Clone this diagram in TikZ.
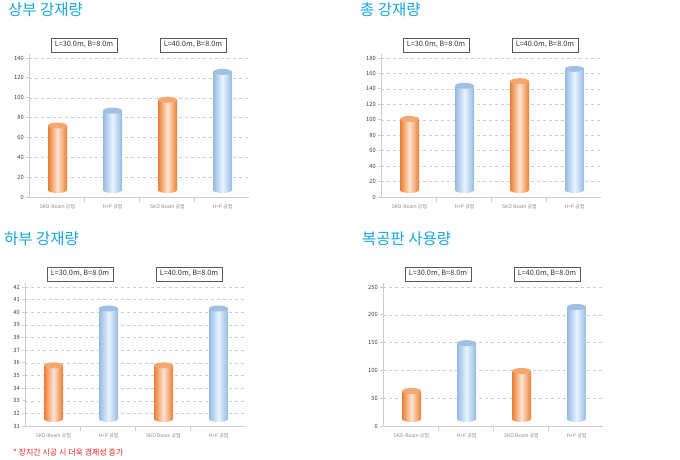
\documentclass[tikz,border=0pt]{standalone}
\usepackage{fontspec}
\setmainfont{Noto Sans CJK KR}
\definecolor{titoloC}{RGB}{22,165,225}
\definecolor{arancioS}{RGB}{236,125,50}
\definecolor{arancioC}{RGB}{253,228,210}
\definecolor{arancioT}{RGB}{243,168,115}
\definecolor{bluS}{RGB}{148,186,226}
\definecolor{bluC}{RGB}{234,244,253}
\definecolor{bluT}{RGB}{158,192,226}
\definecolor{assi}{RGB}{205,205,205}
\definecolor{notaC}{RGB}{235,35,35}
\tikzset{
  titolo/.style={font=\fontsize{15.5}{17}\selectfont, text=titoloC, inner sep=0pt, anchor=west},
  riquadro/.style={draw=black!65, fill=white, minimum width=66, minimum height=13.5, inner sep=0pt, font=\fontsize{7.3}{8}\selectfont, text=black!80},
  tacca/.style={font=\fontsize{5.8}{6}\selectfont, text=black!75, inner sep=0pt, anchor=east},
  etich/.style={font=\fontsize{5}{6}\selectfont, text=black!45, inner sep=0pt},
  griglia/.style={assi, dash pattern=on 3pt off 3pt},
  asse/.style={assi, line width=0.8pt},
  cil o/.style={left color=arancioS, right color=arancioS, middle color=arancioC},
  cil b/.style={left color=bluS, right color=bluS, middle color=bluC},
  top o/.style={fill=arancioT},
  top b/.style={fill=bluT},
  nota/.style={font=\fontsize{8}{9}\selectfont, text=notaC, inner sep=0pt, anchor=west}
}
% #1 nome, #2-#3 origine, #4 titolo, #5 minimo, #6 passo, #7 intervalli, #8 barre
\newcommand{\grafico}[8]{%
\begin{scope}[shift={(#2,#3)}]
  \pgfmathsetmacro{\dy}{139/#7}
  % Griglia e assi
  \foreach \i in {1,...,#7} \draw[griglia] (0,-\i*\dy) -- (219,-\i*\dy);
  \draw[asse] (0,-143) -- (0,0) -- (220,0);
  \foreach \s in {55,110,165} \draw[asse] (\s,0) -- (\s,5);
  \foreach \i in {0,...,#7}{
    \pgfmathtruncatemacro{\v}{#5+\i*#6}
    \draw[asse] (-3,-\i*\dy) -- (0,-\i*\dy);
    \node[tacca] (#1y\i) at (-5,-\i*\dy) {\v};
  }
  % Cilindri
  \foreach \v/\c [count=\k] in {#8}{
    \pgfmathsetmacro{\x}{28.5+(\k-1)*55}
    \pgfmathsetmacro{\h}{(\v-#5)/#6*\dy}
    \shade[cil \c] (\x-9.5,-7) -- (\x-9.5,-\h) -- (\x+9.5,-\h) -- (\x+9.5,-7) arc (0:180:9.5 and 3) -- cycle;
    \fill[top \c] (\x,-\h) ellipse (9.5 and 3);
  }
  \foreach \lab [count=\k] in {SKO-Beam 공법, H+P 공법, SKO Beam 공법, H+P 공법}
    \node[etich] (#1x\k) at ({28.5+(\k-1)*55},10) {\lab};
  \node[riquadro] (#1a) at (55,-152) {L=30.0m, B=8.0m};
  \node[riquadro] (#1b) at (164,-152) {L=40.0m, B=8.0m};
  \node[titolo] (#1t) at (-21,-187) {#4};
\end{scope}}
\begin{document}
\begin{tikzpicture}[x=1pt,y=-1pt]
  \useasboundingbox (0,0) rectangle (680,460);
  \grafico{su}{29}{197}{상부 강재량}{0}{20}{7}{72/o, 87/b, 98/o, 126/b}
  \grafico{to}{381}{197}{총 강재량}{0}{20}{9}{101/o, 144/b, 150/o, 166/b}
  \grafico{gi}{25}{426}{하부 강재량}{31}{1}{11}{35.8/o, 40.3/b, 35.8/o, 40.3/b}
  \grafico{bo}{383}{426}{복공판 사용량}{0}{50}{5}{63/o, 149/b, 99/o, 214/b}
  % Nota
  \node[nota] (nota) at (13,453) {* 장지간 시공 시 더욱 경제성 증가};
\end{tikzpicture}
\end{document}
